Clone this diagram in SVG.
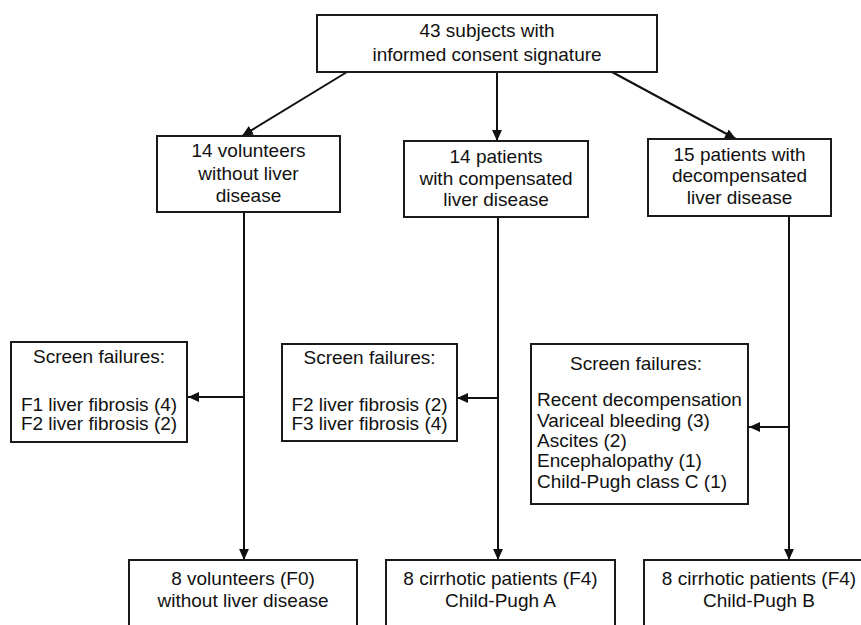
<svg xmlns="http://www.w3.org/2000/svg" width="861" height="625" viewBox="0 0 861 625">
<style>
.box{fill:#fff;stroke:#1a1a1a;stroke-width:2}
.t{font-family:"Liberation Sans",Arial,sans-serif;font-size:19px;fill:#111;text-anchor:middle}
.l{text-anchor:start}
.c{stroke:#111;stroke-width:2;fill:none;marker-end:url(#ah)}
</style>
<defs>
<marker id="ah" viewBox="0 0 10 10" refX="10" refY="5" markerWidth="11" markerHeight="11" markerUnits="userSpaceOnUse" orient="auto">
<path d="M0,0.5 L10,5 L0,9.5 Z" fill="#111"/>
</marker>
</defs>
<rect width="861" height="625" fill="#fff"/>
<g id="connectors">
<line class="c" x1="347" y1="72" x2="242" y2="136"/>
<line class="c" x1="497" y1="72" x2="497" y2="141"/>
<line class="c" x1="612" y1="72" x2="736" y2="139"/>
<line class="c" x1="244" y1="212" x2="244" y2="560"/>
<line class="c" x1="244" y1="397" x2="188" y2="397"/>
<line class="c" x1="498" y1="217" x2="498" y2="560"/>
<line class="c" x1="498" y1="398" x2="457" y2="398"/>
<line class="c" x1="789" y1="216" x2="789" y2="560"/>
<line class="c" x1="789" y1="427" x2="749" y2="427"/>
</g>
<g id="top">
<rect class="box" x="317" y="15" width="340" height="57"/>
<text class="t" x="487" y="37">43 subjects with</text>
<text class="t" x="487" y="61">informed consent signature</text>
</g>
<g id="volunteers">
<rect class="box" x="157" y="136" width="183" height="76"/>
<text class="t" x="248.5" y="157">14 volunteers</text>
<text class="t" x="248.5" y="180">without liver</text>
<text class="t" x="248.5" y="202">disease</text>
</g>
<g id="compensated">
<rect class="box" x="404" y="141" width="184" height="76"/>
<text class="t" x="496" y="163">14 patients</text>
<text class="t" x="496" y="185">with compensated</text>
<text class="t" x="496" y="206">liver disease</text>
</g>
<g id="decompensated">
<rect class="box" x="648" y="139" width="183" height="77"/>
<text class="t" x="739.5" y="161">15 patients with</text>
<text class="t" x="739.5" y="182">decompensated</text>
<text class="t" x="739.5" y="204">liver disease</text>
</g>
<g id="sf-left">
<rect class="box" x="11" y="342" width="176" height="100"/>
<text class="t" x="99" y="363">Screen failures:</text>
<text class="t" x="99" y="411">F1 liver fibrosis (4)</text>
<text class="t" x="99" y="430">F2 liver fibrosis (2)</text>
</g>
<g id="sf-middle">
<rect class="box" x="282" y="344" width="175" height="97"/>
<text class="t" x="369.5" y="364">Screen failures:</text>
<text class="t" x="369.5" y="411">F2 liver fibrosis (2)</text>
<text class="t" x="369.5" y="430">F3 liver fibrosis (4)</text>
</g>
<g id="sf-right">
<rect class="box" x="531" y="344" width="217" height="160"/>
<text class="t" x="636" y="370">Screen failures:</text>
<text class="t l" x="537" y="406">Recent decompensation</text>
<text class="t l" x="537" y="427">Variceal bleeding (3)</text>
<text class="t l" x="537" y="447">Ascites (2)</text>
<text class="t l" x="537" y="467">Encephalopathy (1)</text>
<text class="t l" x="537" y="488">Child-Pugh class C (1)</text>
</g>
<g id="final-volunteers">
<rect class="box" x="129" y="560" width="228" height="80"/>
<text class="t" x="243" y="585">8 volunteers (F0)</text>
<text class="t" x="243" y="607">without liver disease</text>
</g>
<g id="final-a">
<rect class="box" x="386" y="560" width="229" height="80"/>
<text class="t" x="500.5" y="585">8 cirrhotic patients (F4)</text>
<text class="t" x="500.5" y="607">Child-Pugh A</text>
</g>
<g id="final-b">
<rect class="box" x="644" y="560" width="230" height="80"/>
<text class="t" x="759" y="585">8 cirrhotic patients (F4)</text>
<text class="t" x="759" y="607">Child-Pugh B</text>
</g>
</svg>
